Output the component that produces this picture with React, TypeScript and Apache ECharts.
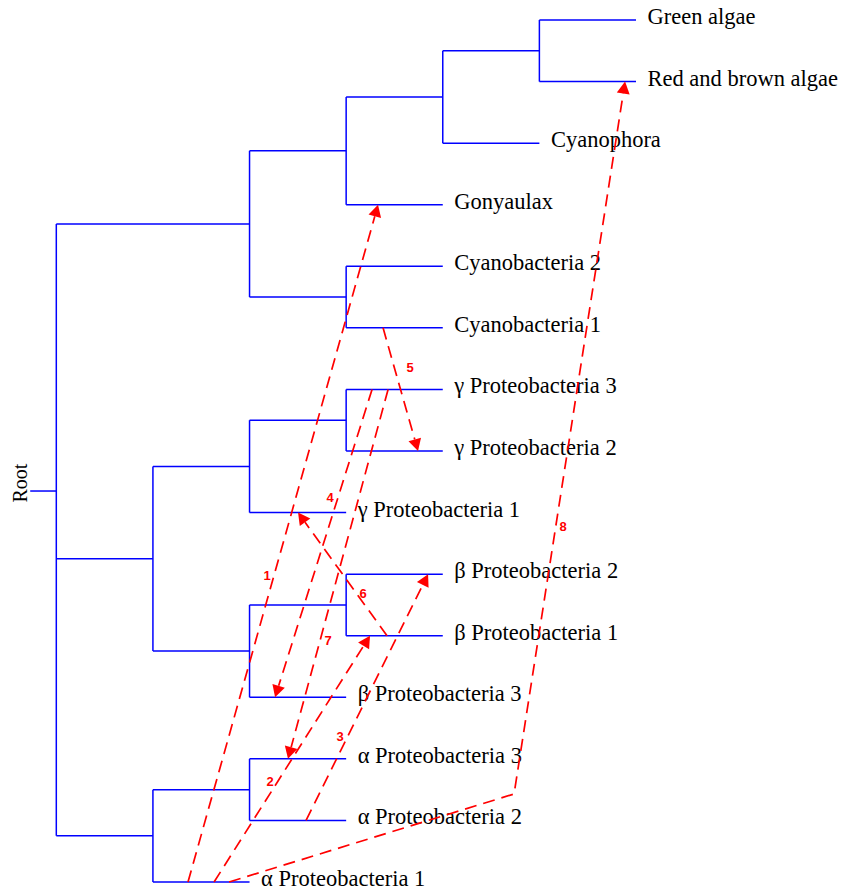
import React, { useEffect, useRef } from "react";
import * as echarts from "echarts";

// ---- Data ----
// Leaves, top to bottom (row index = position in this list)
const leafNames = [
  "Green algae",
  "Red and brown algae",
  "Cyanophora",
  "Gonyaulax",
  "Cyanobacteria 2",
  "Cyanobacteria 1",
  "γ Proteobacteria 3",
  "γ Proteobacteria 2",
  "γ Proteobacteria 1",
  "β Proteobacteria 2",
  "β Proteobacteria 1",
  "β Proteobacteria 3",
  "α Proteobacteria 3",
  "α Proteobacteria 2",
  "α Proteobacteria 1",
];

// Internal clades: id, depth level, children (first to last)
const cladeIds = ["Root", "P", "P1", "P2", "P3", "C", "GB", "G", "G1", "B", "B1", "A", "A1"];
const cladeLevels = [0, 2, 3, 4, 5, 3, 1, 2, 3, 2, 3, 1, 2];
const cladeChildren = [
  ["P", "GB", "A"],
  ["P1", "C"],
  ["P2", "Gonyaulax"],
  ["P3", "Cyanophora"],
  ["Green algae", "Red and brown algae"],
  ["Cyanobacteria 2", "Cyanobacteria 1"],
  ["G", "B"],
  ["G1", "γ Proteobacteria 1"],
  ["γ Proteobacteria 3", "γ Proteobacteria 2"],
  ["B1", "β Proteobacteria 3"],
  ["β Proteobacteria 2", "β Proteobacteria 1"],
  ["A1", "α Proteobacteria 1"],
  ["α Proteobacteria 3", "α Proteobacteria 2"],
];

// Root stub: [start level, row]
const rootStub = [-0.27, 7.65];
const rootLabel = { text: "Root", level: -0.371, row: 7.52 };

// Gene transfer arrows: paths as [level, row] points, last point is the head
const transferIds = ["1", "2", "3", "4", "5", "6", "7", "8"];
const transferPaths = [
  [[1.363, 14], [3.33, 3]],
  [[1.633, 14], [3.247, 10]],
  [[2.585, 13], [3.848, 9]],
  [[3.268, 6], [2.264, 11]],
  [[3.382, 5], [3.744, 7]],
  [[3.423, 10], [2.502, 8]],
  [[3.434, 6], [2.398, 12]],
  [[1.788, 14], [4.738, 12.57], [5.887, 1]],
];
// Label anchor of each arrow: [level, row]
const transferLabelPos = [
  [2.181, 9.014],
  [2.212, 12.36],
  [2.937, 11.63],
  [2.833, 7.75],
  [3.661, 5.636],
  [3.175, 9.31],
  [2.812, 10.07],
  [5.245, 8.234],
];

// ---- Layout helpers ----
function cladeIndex(id: string) {
  return cladeIds.indexOf(id);
}
function parentLevel(id: string): number {
  for (let i = 0; i < cladeChildren.length; i++) {
    if (cladeChildren[i].indexOf(id) >= 0) return cladeLevels[i];
  }
  return 0;
}
function levelOf(id: string): number {
  const ci = cladeIndex(id);
  if (ci >= 0) return cladeLevels[ci];
  return parentLevel(id) + 1;
}
function rowOf(id: string): number {
  const ci = cladeIndex(id);
  if (ci < 0) return leafNames.indexOf(id);
  const ch = cladeChildren[ci];
  return (rowOf(ch[0]) + rowOf(ch[ch.length - 1])) / 2;
}

function buildSegments() {
  const segs: number[][] = [];
  cladeIds.forEach((id, i) => {
    const lv = cladeLevels[i];
    const ch = cladeChildren[i];
    segs.push([lv, rowOf(ch[0]), lv, rowOf(ch[ch.length - 1])]);
    ch.forEach((c) => {
      const r = rowOf(c);
      segs.push([lv, r, levelOf(c), r]);
    });
  });
  segs.push([rootStub[0], rootStub[1], 0, rootStub[1]]);
  return segs;
}

const BLUE = "#0000ff";
const RED = "#ff0000";
const SERIF = "'Liberation Serif', 'Times New Roman', serif";

export default function App() {
  const ref = useRef<HTMLDivElement>(null);

  useEffect(() => {
    if (!ref.current) return;
    const chart = echarts.init(ref.current, undefined, { renderer: "svg" });
    const segments = buildSegments();
    const leafData = leafNames.map((n) => [levelOf(n), rowOf(n)]);

    const option: any = {
      animation: false,
      backgroundColor: "#ffffff",
      grid: { left: 8, right: 205, top: 20, bottom: 8 },
      xAxis: { type: "value", min: -0.5, max: 6, show: false },
      yAxis: { type: "value", min: 0, max: 14, inverse: true, show: false },
      series: [
        {
          type: "custom",
          name: "tree",
          clip: false,
          silent: true,
          data: segments,
          encode: { x: [0, 2], y: [1, 3] },
          renderItem: (params: any, api: any) => {
            const a = api.coord([api.value(0), api.value(1)]);
            const b = api.coord([api.value(2), api.value(3)]);
            return {
              type: "line",
              shape: { x1: a[0], y1: a[1], x2: b[0], y2: b[1] },
              style: { stroke: BLUE, lineWidth: 1.5, fill: "none" },
            };
          },
        },
        {
          type: "custom",
          name: "leaves",
          clip: false,
          silent: true,
          data: leafData,
          encode: { x: 0, y: 1 },
          renderItem: (params: any, api: any) => {
            const p = api.coord([api.value(0), api.value(1)]);
            return {
              type: "text",
              x: p[0] + 11.5,
              y: p[1] - 3.5,
              style: {
                text: leafNames[params.dataIndex],
                fill: "#000000",
                font: `22.5px ${SERIF}`,
                align: "left",
                verticalAlign: "middle",
              },
            };
          },
        },
        {
          type: "custom",
          name: "root",
          clip: false,
          silent: true,
          data: [[rootLabel.level, rootLabel.row]],
          encode: { x: 0, y: 1 },
          renderItem: (params: any, api: any) => {
            const p = api.coord([api.value(0), api.value(1)]);
            return {
              type: "text",
              x: p[0],
              y: p[1],
              rotation: Math.PI / 2,
              style: {
                text: rootLabel.text,
                fill: "#000000",
                font: `20px ${SERIF}`,
                align: "center",
                verticalAlign: "middle",
              },
            };
          },
        },
        {
          type: "custom",
          name: "transfers",
          clip: false,
          silent: true,
          data: transferPaths.map((p) => [p[0][0], p[0][1]]),
          encode: { x: 0, y: 1 },
          renderItem: (params: any, api: any) => {
            const path = transferPaths[params.dataIndex];
            const pts = path.map((q) => api.coord(q));
            const n = pts.length;
            const tip = pts[n - 1];
            const prev = pts[n - 2];
            const dx = tip[0] - prev[0];
            const dy = tip[1] - prev[1];
            const len = Math.hypot(dx, dy) || 1;
            const ux = dx / len;
            const uy = dy / len;
            const headLen = 12;
            const hw = 6.5;
            const base = [tip[0] - ux * headLen, tip[1] - uy * headLen];
            const linePts = pts.slice(0, n - 1).concat([base]);
            return {
              type: "group",
              children: [
                {
                  type: "polyline",
                  shape: { points: linePts },
                  style: { stroke: RED, lineWidth: 1.7, lineDash: [12, 7], fill: "none" },
                },
                {
                  type: "polygon",
                  shape: {
                    points: [
                      tip,
                      [base[0] - uy * hw, base[1] + ux * hw],
                      [base[0] + uy * hw, base[1] - ux * hw],
                    ],
                  },
                  style: { fill: RED, stroke: "none" },
                },
              ],
            };
          },
        },
        {
          type: "custom",
          name: "transferLabels",
          clip: false,
          silent: true,
          data: transferLabelPos,
          encode: { x: 0, y: 1 },
          renderItem: (params: any, api: any) => {
            const p = api.coord([api.value(0), api.value(1)]);
            return {
              type: "text",
              x: p[0],
              y: p[1],
              style: {
                text: transferIds[params.dataIndex],
                fill: RED,
                font: "bold 13px 'Liberation Sans', Arial, sans-serif",
                align: "center",
                verticalAlign: "middle",
              },
            };
          },
        },
      ],
    };
    chart.setOption(option);
    return () => {
      chart.dispose();
    };
  }, []);

  return (
    <div
      ref={ref}
      style={{ position: "fixed", left: 0, top: 0, width: 841, height: 890, background: "#fff" }}
    />
  );
}
